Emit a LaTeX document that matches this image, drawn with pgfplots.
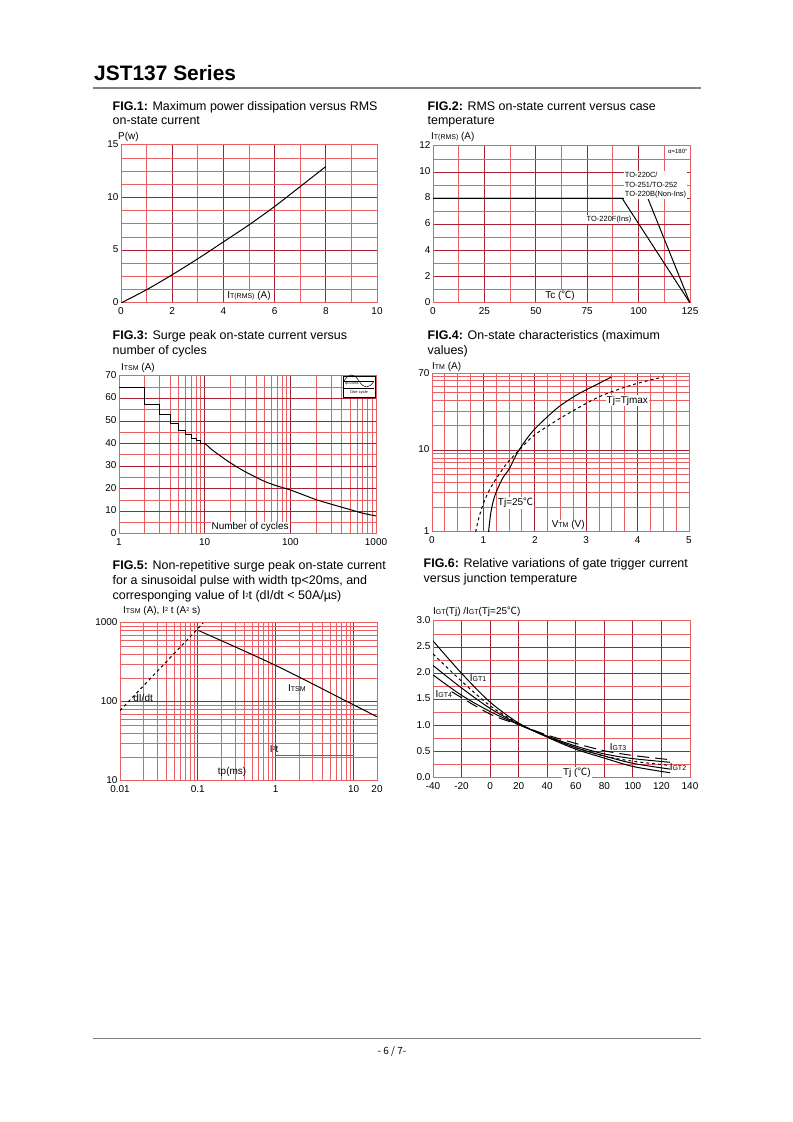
\documentclass[border=0pt]{standalone}
\usepackage{fontspec}
\setmainfont{Liberation Sans}
\newfontfamily\cjk{Noto Sans CJK SC}
\usepackage{pgfplots}
\pgfplotsset{compat=1.18}
\definecolor{gl}{RGB}{232,96,100}
\definecolor{gd}{RGB}{165,35,50}
\definecolor{hl}{RGB}{128,128,128}
\newcommand{\sub}[1]{{\fontsize{7}{8}\selectfont #1}}
\newcommand{\sq}{{\fontsize{5.5}{6}\selectfont\raisebox{0.9ex}{2}}}
\newcommand{\dC}{{\cjk ℃}}
\pgfplotsset{
 jst/.style={scale only axis, width=257bp, height=157bp,
   axis line style={draw=gl, line width=1bp},
   grid=both,
   major grid style={draw=gd, line width=1bp},
   minor grid style={draw=gl, line width=1bp},
   major tick length=0pt, minor tick length=0pt,
   tick style={draw=none},
   tick label style={font=\fontsize{10}{12}\selectfont},
   /pgf/number format/assume math mode=true,
   xticklabel style={yshift=-1.5bp},
   yticklabel style={xshift=1bp, yshift=1bp},
   every axis plot/.append style={line width=1bp},
   cycle list={{black, mark=none}},
   anchor=south west,
 },
}
\tikzset{ttl/.style={anchor=base west, inner sep=0pt, font=\fontsize{12.5}{15}\selectfont},
  yl/.style={anchor=base west, inner sep=0pt, font=\fontsize{10}{12}\selectfont},
  lab/.style={font=\fontsize{10}{12}\selectfont, inner sep=1bp}}
\begin{document}
\begin{tikzpicture}[x=1bp,y=1bp]
\path[use as bounding box, fill=white] (0,0) rectangle (793,1122);
% header / footer
\node[anchor=base west, inner sep=0pt, font=\fontsize{21}{24}\selectfont\bfseries] at (94,1041) {JST137 Series};
\draw[hl, line width=2.2bp] (93,1034) -- (701,1034);
\draw[hl, line width=0.8bp] (93,84) -- (701,84);
\node[anchor=base, inner sep=0pt, font=\cjk\fontsize{10}{12}\selectfont] at (392,67) {- 6 / 7-};

% titles
\node[ttl] at (112.5,1011.5) {\textbf{FIG.1:} Maximum power dissipation versus RMS};
\node[ttl] at (112.5,997) {on-state current};
\node[ttl] at (427.5,1011.5) {\textbf{FIG.2:} RMS on-state current versus case};
\node[ttl] at (427.5,997) {temperature};
\node[ttl] at (112.5,782) {\textbf{FIG.3:} Surge peak on-state current versus};
\node[ttl] at (112.5,767) {number of cycles};
\node[ttl] at (427.5,782) {\textbf{FIG.4:} On-state characteristics (maximum};
\node[ttl] at (427.5,767) {values)};
\node[ttl] at (112.5,552) {\textbf{FIG.5:} Non-repetitive surge peak on-state current};
\node[ttl] at (112.5,537) {for a sinusoidal pulse with width tp<20ms, and};
\node[ttl] at (112.5,522) {corresponging value of I\sq t (dI/dt < 50A/µs)};
\node[ttl] at (423.5,554) {\textbf{FIG.6:} Relative variations of gate trigger current};
\node[ttl] at (423.5,539) {versus junction temperature};

% y labels
\node[yl] at (118,982) {P(w)};
\node[yl] at (431,982) {I\sub{T(RMS)} (A)};
\node[yl] at (121,751) {I\sub{TSM} (A)};
\node[yl] at (432,752) {I\sub{TM} (A)};
\node[yl] at (123,508) {I\sub{TSM} (A), I\sq\ t (A\sq\ s)};
\node[yl] at (433,507) {I\sub{GT}(Tj) /I\sub{GT}(Tj=25\dC)};

% FIG 1
\begin{axis}[jst, at={(121bp,819bp)}, width=256bp, height=158bp,
  xmin=0, xmax=10, ymin=0, ymax=15,
  xtick={0,2,...,10}, minor xtick={1,3,...,9},
  ytick={0,5,10,15}, minor ytick={1.25,2.5,3.75,6.25,7.5,8.75,11.25,12.5,13.75}]
\addplot+[smooth] coordinates {(0,0) (1,1.26) (2,2.68) (3,4.2) (4,5.8) (5,7.42) (6,9.16) (7,11.05) (8,12.95)};
\node[lab, fill=white, anchor=south] at (rel axis cs:0.5,0.005) {I\sub{T(RMS)} (A)};
\end{axis}

% FIG 2
\begin{axis}[jst, at={(433bp,819bp)},
  xmin=0, xmax=125, ymin=0, ymax=12,
  xtick={0,25,...,125}, minor xtick={12.5,37.5,62.5,87.5,112.5},
  ytick={0,2,...,12}, minor ytick={1,3,...,11}]
\addplot+[] coordinates {(0,8) (92,8) (125,0)};
\addplot+[] coordinates {(0,8) (104.5,8) (125,0)};
\node[lab, fill=white, anchor=south] at (rel axis cs:0.494,0.005) {Tc (\dC)};
\node[inner sep=1bp, anchor=north east, font=\fontsize{6}{7}\selectfont] at (rel axis cs:0.995,0.985) {α=180°};
\node[inner sep=1bp, anchor=north west, fill=white, align=left, font=\fontsize{7.5}{9.5}\selectfont] at (rel axis cs:0.742,0.84) {TO-220C/\\TO-251/TO-252\\TO-220B(Non-Ins)};
\node[inner sep=0.8bp, anchor=east, fill=white, font=\fontsize{7.5}{9}\selectfont] at (axis cs:97,6.4) {TO-220F(Ins)};
\end{axis}

% FIG 3
\begin{axis}[jst, at={(119bp,588bp)}, height=158bp,
  xmode=log, xmin=1, xmax=1000, ymin=0, ymax=70,
  xtick={1,10,100,1000}, xticklabels={1,10,100,1000},
  minor xtick={2,3,...,9,20,30,...,90,200,300,...,900},
  ytick={0,10,...,70}, minor ytick={5,15,...,65}]
\addplot+[] coordinates {(1,65) (2,65) (2,57.5) (3,57.5) (3,53) (4,53) (4,49) (5,49) (5,46) (6,46) (6,44) (7,44) (7,42.5) (8,42.5) (8,41.3) (9,41.3) (9,40.3) (10,40.3)};
\addplot+[smooth] coordinates {(10,40.3) (12,37.5) (15,34.8) (20,31.5) (30,27.5) (50,23.3) (70,21.3) (100,19.5) (150,17) (200,15.2) (300,13.2) (500,10.8) (700,9.2) (1000,8)};
\node[lab, fill=white, anchor=south] at (rel axis cs:0.51,0.005) {Number of cycles};
\end{axis}
% icon in fig 3
\draw[black, line width=0.4bp, fill=white] (343,746) rectangle (375,725);
\draw[black, line width=0.5bp] (344,741) .. controls (349,749) and (354,749) .. (359,741) .. controls (364,733) and (369,733) .. (374,741);
\draw[black, line width=0.3bp] (344,741) -- (374,741);
\node[inner sep=0pt, font=\fontsize{3.5}{4}\selectfont] at (352,738.5) {tp=20ms};
\draw[black, line width=0.8bp] (344,734) -- (374,734);
\node[inner sep=0pt, font=\fontsize{4}{4}\selectfont] at (359,730) {One cycle};

% FIG 4
\begin{axis}[jst, at={(432bp,590bp)}, height=158bp,
  xmin=0, xmax=5, ymode=log, ymin=1, ymax=85,
  xtick={0,1,...,5}, minor x tick num=3,
  ytick={1,10,85}, yticklabels={1,10,70},
  minor ytick={2,3,...,9,20,30,...,80}]
\addplot+[smooth] coordinates {(1.10,1) (1.12,1.3) (1.15,1.8) (1.2,2.5) (1.27,3.3) (1.38,4.6) (1.51,6.0) (1.67,9.5) (1.96,17) (2.42,32) (2.81,47) (3.2,63) (3.49,78)};
\addplot+[smooth, dashed] coordinates {(0.85,1) (0.9,1.4) (0.99,2.15) (1.1,3.1) (1.25,4.5) (1.45,6.8) (1.64,9.2) (1.96,14.7) (2.3,20.5) (2.61,27) (3.26,45) (3.91,63) (4.49,78)};
\node[lab, fill=white, anchor=south] at (rel axis cs:0.53,0.005) {V\sub{TM} (V)};
\node[lab, fill=white] at (rel axis cs:0.76,0.83) {Tj=Tjmax};
\node[lab, fill=white] at (rel axis cs:0.325,0.184) {Tj=25\dC};
\end{axis}

% FIG 5
\begin{axis}[jst, at={(120bp,341bp)}, height=158bp,
  xmode=log, ymode=log, xmin=0.01, xmax=20, ymin=10, ymax=1000,
  xtick={0.01,0.1,1,10,20}, xticklabels={0.01,0.1,1,10,20},
  minor xtick={0.02,0.03,0.04,0.05,0.06,0.07,0.08,0.09,0.2,0.3,0.4,0.5,0.6,0.7,0.8,0.9,2,3,4,5,6,7,8,9},
  ytick={10,100,1000}, yticklabels={10,100,1000},
  minor ytick={20,30,...,90,200,300,...,900}]
\addplot+[smooth] coordinates {(0.1,810) (1,290) (10,92) (20,65)};
\addplot+[dashed] coordinates {(0.01,78) (0.117,1000)};
\addplot+[draw={rgb,255:red,100;green,100;blue,100}, line width=1.6bp] coordinates {(1,21) (10,21)};
\node[lab] at (rel axis cs:0.688,0.589) {I\sub{TSM}};
\node[lab] at (rel axis cs:0.09,0.527) {dI/dt};
\node[lab] at (rel axis cs:0.6,0.2) {I\sq t};
\node[lab] at (rel axis cs:0.436,0.057) {tp(ms)};
\end{axis}

% FIG 6
\begin{axis}[jst, at={(433bp,344bp)},
  xmin=-40, xmax=140, ymin=0, ymax=3,
  xtick={-40,-20,...,140}, ytick={0,0.5,...,3}, minor y tick num=1,
  yticklabel style={/pgf/number format/.cd, fixed, fixed zerofill, precision=1}]
\addplot+[smooth] coordinates {(-40,2.62) (-20,2.0) (0,1.45) (20,1.05) (40,0.78) (60,0.55) (80,0.38) (100,0.22) (126,0.10)};
\addplot+[smooth, dashed] coordinates {(-40,2.37) (-20,1.85) (0,1.38) (20,1.04) (40,0.79) (60,0.58) (80,0.42) (100,0.32) (126,0.24)};
\addplot+[smooth] coordinates {(-40,2.15) (-20,1.72) (0,1.33) (20,1.03) (40,0.79) (60,0.58) (80,0.42) (100,0.28) (126,0.17)};
\addplot+[smooth] coordinates {(-40,1.97) (-20,1.58) (0,1.27) (20,1.02) (40,0.80) (60,0.61) (80,0.46) (100,0.37) (126,0.30)};
\addplot+[smooth, dash pattern=on 12bp off 6bp] coordinates {(-27,1.65) (0,1.22) (20,1.02) (40,0.82) (60,0.66) (80,0.52) (100,0.43) (126,0.35)};
\node[lab, anchor=west] at (axis cs:-15,1.9) {I\sub{GT1}};
\node[lab, anchor=west] at (axis cs:-39,1.6) {I\sub{GT4}};
\node[lab, anchor=west] at (axis cs:83,0.59) {I\sub{GT3}};
\node[lab, anchor=west] at (axis cs:125,0.2) {I\sub{GT2}};
\node[lab, fill=white] at (rel axis cs:0.56,0.035) {Tj (\dC)};
\end{axis}
\end{tikzpicture}
\end{document}
